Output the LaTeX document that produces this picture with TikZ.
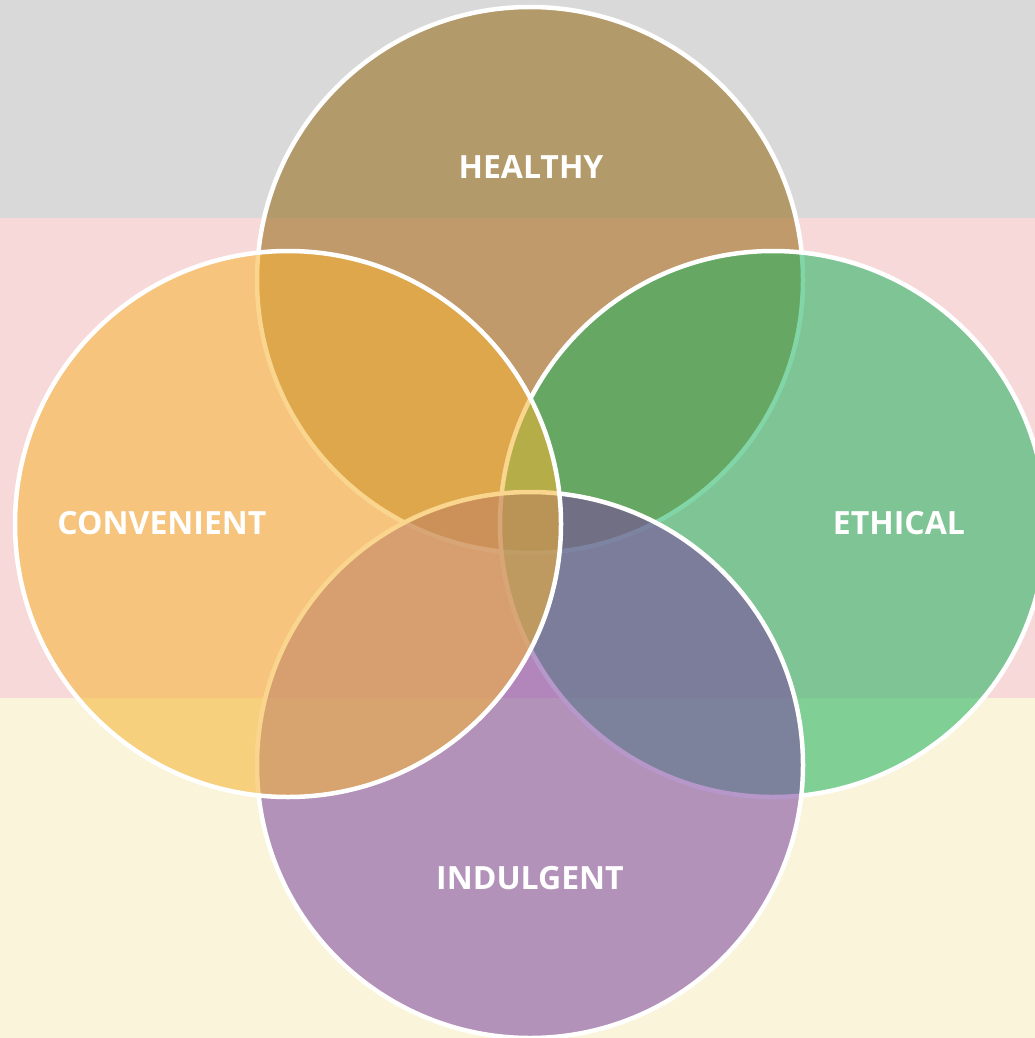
\documentclass[tikz,border=0pt]{standalone}
\usepackage{fontspec}
\setmainfont{Open Sans}
\definecolor{bgGray}{RGB}{217,217,217}
\definecolor{bgPink}{RGB}{248,217,218}
\definecolor{bgCream}{RGB}{250,244,218}
\definecolor{cTop}{RGB}{148,104,17}
\definecolor{cLeft}{RGB}{246,179,50}
\definecolor{cRight}{RGB}{28,179,94}
\definecolor{cBottom}{RGB}{122,66,160}
\tikzset{
  venn/.style={circle, draw=white, line width=4.5pt, fill opacity=0.55, draw opacity=1, inner sep=0pt, minimum size=546pt},
  label/.style={text=white, font=\fontsize{32}{37}\selectfont\bfseries, inner sep=0pt}
}
\begin{document}
\begin{tikzpicture}[x=1pt,y=-1pt]
\useasboundingbox (0,0) rectangle (1035,1038);
\fill[bgGray] (0,0) rectangle (1035,218);
\fill[bgPink] (0,218) rectangle (1035,698);
\fill[bgCream] (0,698) rectangle (1035,1038);
\node[venn, fill=cTop] (healthy) at (530,280) {};
\node[venn, fill=cRight] (ethical) at (773,524) {};
\node[venn, fill=cBottom] (indulgent) at (530,765) {};
\node[venn, fill=cLeft] (convenient) at (288,524) {};
\node[label] (tH) at (531,167) {HEALTHY};
\node[label] (tC) at (162,523) {CONVENIENT};
\node[label] (tE) at (899,523) {ETHICAL};
\node[label] (tI) at (530,878) {INDULGENT};
\end{tikzpicture}
\end{document}
